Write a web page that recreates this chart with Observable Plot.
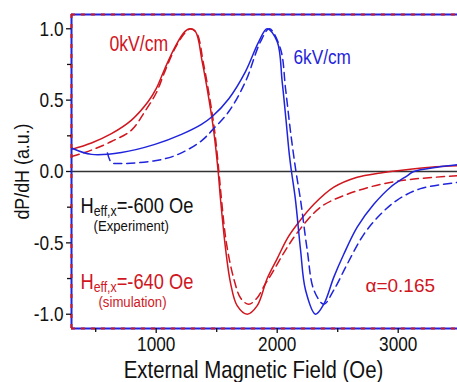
<!DOCTYPE html>
<html><head><meta charset="utf-8">
<script src="https://cdn.jsdelivr.net/npm/d3@7"></script>
<script src="https://cdn.jsdelivr.net/npm/@observablehq/plot@0.6"></script>
<style>
html,body{margin:0;padding:0;background:#fff;}
#chart svg{display:block;}
</style></head><body><div id="chart"></div>
<script>
// ---- data ----
const xDomain = [300, 3490];
const yDomain = [-1.1, 1.1];
const xTicks = [1000, 2000, 3000];
const xMinorTicks = [500, 1500, 2500];
const yTicks = [-1.0, -0.5, 0.0, 0.5, 1.0];
const yMinorTicks = [-0.75, -0.25, 0.25, 0.75];

// 0 kV/cm, experiment (solid red)
const red0Field  = [300, 465, 630, 796, 934, 1000, 1071, 1154, 1236, 1278, 1325, 1380, 1435, 1476, 1512, 1531, 1573, 1614, 1669, 1752, 1835, 1917, 2000, 2083, 2165, 2303, 2468, 2661, 2854, 2936, 3267, 3490];
const red0Signal = [0.155, 0.20, 0.265, 0.36, 0.49, 0.58, 0.72, 0.87, 0.98, 1.0, 0.98, 0.77, 0.51, 0.28, 0.0, -0.19, -0.54, -0.78, -0.94, -1.0, -0.94, -0.75, -0.61, -0.47, -0.37, -0.23, -0.11, -0.04, -0.01, 0.0, 0.03, 0.04];
// 0 kV/cm, simulation (dashed red)
const red0SimField  = [300, 465, 630, 796, 906, 1000, 1071, 1154, 1236, 1285, 1335, 1390, 1445, 1485, 1518, 1540, 1580, 1641, 1700, 1765, 1830, 1900, 1945, 2055, 2165, 2358, 2578, 2854, 3129, 3490];
const red0SimSignal = [0.105, 0.15, 0.21, 0.29, 0.42, 0.55, 0.70, 0.86, 0.97, 1.0, 0.97, 0.76, 0.50, 0.27, 0.0, -0.2, -0.5, -0.75, -0.89, -0.93, -0.89, -0.79, -0.73, -0.57, -0.43, -0.25, -0.16, -0.09, -0.053, -0.03];
// 6 kV/cm, experiment (solid blue)
const blue6Field  = [300, 465, 713, 989, 1209, 1374, 1463, 1600, 1738, 1848, 1917, 2000, 2041, 2074, 2100, 2118, 2151, 2193, 2234, 2317, 2385, 2468, 2550, 2661, 2798, 2936, 3074, 3129, 3322, 3490];
const blue6Signal = [0.165, 0.12, 0.133, 0.19, 0.26, 0.33, 0.385, 0.51, 0.70, 0.91, 1.0, 0.91, 0.63, 0.35, 0.12, 0.0, -0.2, -0.55, -0.83, -1.0, -0.93, -0.74, -0.58, -0.39, -0.23, -0.11, -0.03, 0.0, 0.03, 0.047];
// 6 kV/cm, simulation (dashed blue)
const blue6SimField  = [597, 630, 686, 989, 1182, 1374, 1463, 1600, 1738, 1862, 1936, 2027, 2069, 2110, 2155, 2193, 2248, 2303, 2385, 2468, 2578, 2716, 2854, 2992, 3184, 3490];
const blue6SimSignal = [0.13, 0.063, 0.056, 0.075, 0.12, 0.215, 0.29, 0.42, 0.63, 0.91, 1.0, 0.86, 0.58, 0.28, 0.0, -0.2, -0.55, -0.83, -0.93, -0.83, -0.65, -0.44, -0.30, -0.20, -0.12, -0.077];

const annoText = ["0kV/cm", "6kV/cm", "H_eff,x=-600 Oe", "(Experiment)", "H_eff,x=-640 Oe", "(simulation)", "α=0.165"];
const annoField = [614, 2135, 374, 482, 374, 523, 2729];
const annoSignal = [0.844, 0.753, -0.289, -0.42, -0.822, -0.95, -0.841];

const xTitle = "External Magnetic Field (Oe)";
const yTitle = "dP/dH (a.u.)";

// ---- build ----
const RED = "#d0161e", BLUE = "#1f24dc";
const FONT = "'Liberation Sans', Arial, sans-serif";
const zip = (xs, ys) => xs.map((x, i) => ({x, y: ys[i]}));
const red0 = zip(red0Field, red0Signal);
const red0Sim = zip(red0SimField, red0SimSignal);
const blue6 = zip(blue6Field, blue6Signal);
const blue6Sim = zip(blue6SimField, blue6SimSignal);
const annos = annoText.map((t, i) => ({t, x: annoField[i], y: annoSignal[i]}));
const annoStyle = [
  {color: RED, size: 21.5}, {color: BLUE, size: 21}, {color: "#111", size: 21.5},
  {color: "#111", size: 15.5}, {color: RED, size: 21.5}, {color: RED, size: 15.5}, {color: RED, size: 19}
];
const fmt1 = d => d.toFixed(1);

const lineOpts = {x: "x", y: "y", strokeWidth: 1.5, curve: "catmull-rom"};
const plot = Plot.plot({
  width: 457, height: 382,
  marginLeft: 71, marginRight: 0, marginTop: 14, marginBottom: 54,
  style: {fontFamily: FONT, background: "#fff", color: "#111"},
  x: {domain: xDomain},
  y: {domain: yDomain},
  marks: [
    Plot.ruleY([0], {stroke: "#333", strokeWidth: 1.5}),
    Plot.line(red0, {...lineOpts, stroke: RED}),
    Plot.line(red0Sim, {...lineOpts, stroke: RED, strokeDasharray: "8,5"}),
    Plot.line(blue6, {...lineOpts, stroke: BLUE}),
    Plot.line(blue6Sim, {...lineOpts, stroke: BLUE, strokeDasharray: "8,5"}),
    // frame: blue with red dashes on top
    Plot.ruleY([yDomain[1], yDomain[0]], {stroke: BLUE, strokeWidth: 2}),
    Plot.ruleX([xDomain[0]], {stroke: BLUE, strokeWidth: 2}),
    Plot.ruleY([yDomain[1], yDomain[0]], {stroke: RED, strokeWidth: 2, strokeDasharray: "4,6"}),
    Plot.ruleX([xDomain[0]], {stroke: RED, strokeWidth: 2, strokeDasharray: "4,6"}),
    Plot.axisX({ticks: xTicks, tickSize: 5, tickPadding: 3, fontSize: 21, strokeWidth: 1.3, label: null, tickFormat: d => String(d)}),
    Plot.axisX({ticks: xMinorTicks, tickSize: 4, strokeWidth: 1.3, label: null, text: null}),
    Plot.axisY({ticks: yTicks, tickSize: 5, tickPadding: 3, fontSize: 21, strokeWidth: 1.3, label: null, tickFormat: fmt1}),
    Plot.axisY({ticks: yMinorTicks, tickSize: 4, strokeWidth: 1.3, label: null, text: null}),
    Plot.text([xTitle], {x: () => 1804, frameAnchor: "bottom", dy: 49, fontSize: 24, lineAnchor: "bottom", fill: "#111"}),
    Plot.text([yTitle], {x: () => -105, y: () => 0, rotate: -90, fontSize: 21, textAnchor: "middle", lineAnchor: "middle", fill: "#111"}),
    ...annos.map((a, i) => Plot.text([a], {x: "x", y: "y", text: "t", textAnchor: "start", lineAnchor: "bottom", fill: annoStyle[i].color, fontSize: annoStyle[i].size}))
  ]
});

const ns = "http://www.w3.org/2000/svg";
plot.querySelectorAll("text").forEach(el => {
  const s = el.textContent;
  // subscripts for H_eff,x
  if (s.startsWith("H_")) {
    const m = s.match(/^H_([^=]+)(=.*)$/);
    el.textContent = "";
    const a = document.createElementNS(ns, "tspan"); a.textContent = "H";
    const b = document.createElementNS(ns, "tspan"); b.textContent = m[1];
    b.setAttribute("font-size", "14.5"); b.setAttribute("dy", "3");
    const c = document.createElementNS(ns, "tspan"); c.textContent = m[2];
    c.setAttribute("dy", "-3");
    el.append(a, b, c);
  }
  // condensed look (narrow sans)
  let sx = 0.85;
  if (/^-?\d/.test(s)) sx = 0.82;
  if (s.startsWith("α")) sx = 1;
  if (sx !== 1) el.setAttribute("transform", (el.getAttribute("transform") || "") + ` scale(${sx},1)`);
});
document.getElementById("chart").append(plot);
</script></body></html>
